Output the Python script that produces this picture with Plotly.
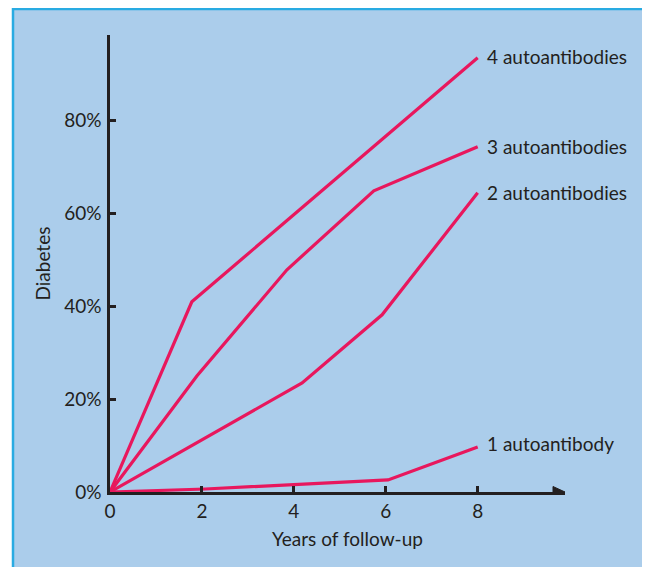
import plotly.graph_objects as go

# Data (years of follow-up, % with diabetes)
x4 = [0, 1.78, 8]
y4 = [0, 41.0, 93.6]
x3 = [0, 1.89, 3.85, 5.74, 8]
y3 = [0, 25.0, 47.9, 64.9, 74.4]
x2 = [0, 4.18, 5.92, 8]
y2 = [0, 23.5, 38.2, 64.5]
x1 = [0, 2.07, 6.05, 8]
y1 = [0, 0.65, 2.6, 9.7]
labels = ["4 autoantibodies", "3 autoantibodies", "2 autoantibodies", "1 autoantibody"]
x_ticks = [0, 2, 4, 6, 8]
y_ticks = [0, 20, 40, 60, 80]
y_tick_text = ["0%", "20%", "40%", "60%", "80%"]
x_title = "Years of follow-up"
y_title = "Diabetes"

LINE = "#e8175d"
TEXT = "#231f20"
BG = "#abcdeb"
FONT = "Lato"
FS = 19

# page body has an 8px margin; layout below compensates
L, R, T, B = 102, 93, 27, 83
PW, PH = 650 - L - R, 567 - T - B

fig = go.Figure()
series = [(x4, y4), (x3, y3), (x2, y2), (x1, y1)]
for (xs, ys), name in zip(series, labels):
    fig.add_trace(go.Scatter(x=xs, y=ys, mode="lines", name=name,
                             line=dict(color=LINE, width=3.2), showlegend=False,
                             cliponaxis=False))

label_yshift = [1, 0, 0, 4]
for (xs, ys), name, ysh in zip(series, labels, label_yshift):
    fig.add_annotation(x=xs[-1], y=ys[-1], text=name, showarrow=False,
                       xanchor="left", yanchor="middle", xshift=7, yshift=ysh,
                       font=dict(family=FONT, size=FS, color=TEXT))

fig.add_annotation(xref="paper", yref="paper", x=(339 - L) / PW, y=0, yshift=-46,
                   text=x_title, showarrow=False, xanchor="center", yanchor="middle",
                   font=dict(family=FONT, size=FS, color=TEXT))
fig.add_annotation(xref="paper", yref="paper", x=(34 - L) / PW, y=0.5,
                   text=y_title, showarrow=False, xanchor="center", yanchor="middle",
                   textangle=-90, font=dict(family=FONT, size=FS, color=TEXT))

x_max = 9.9
y_max = 98.5

fig.update_layout(
    template="none",
    width=650, height=567,
    margin=dict(l=L, r=R, t=T, b=B, pad=0),
    paper_bgcolor="white",
    plot_bgcolor="rgba(0,0,0,0)",
    font=dict(family=FONT, size=FS, color=TEXT),
    xaxis=dict(range=[0, x_max], tickvals=x_ticks, ticktext=[str(v) for v in x_ticks],
               automargin=False,
               showgrid=False, zeroline=False, showline=True, linecolor=TEXT, linewidth=2.5,
               ticks="inside", ticklen=6, tickwidth=2.5, tickcolor=TEXT,
               tickfont=dict(family=FONT, size=FS, color=TEXT)),
    yaxis=dict(range=[0, y_max], tickvals=y_ticks + [y_max], ticktext=y_tick_text + [""],
               automargin=False,
               showgrid=False, zeroline=False, showline=True, linecolor=TEXT, linewidth=2.5,
               ticks="inside", ticklen=6, tickwidth=2.5, tickcolor=TEXT,
               ticklabelstandoff=2,
               tickfont=dict(family=FONT, size=FS, color=TEXT)),
    shapes=[
        dict(type="rect", xref="paper", yref="paper", layer="below",
             x0=(5 - L) / PW, x1=(660 - L) / PW,
             y0=-(B + 10) / PH, y1=(PH + T - 1) / PH,
             fillcolor=BG, line=dict(color="#29abe2", width=2.5)),
        dict(type="path", xref="x", yref="y", xsizemode="pixel", ysizemode="pixel",
             xanchor=x_max, yanchor=0, path="M -12,-5.5 L 0,0 L -12,5.5 Z",
             fillcolor=TEXT, line=dict(color=TEXT, width=1)),
    ],
)

fig.write_html("out.html")
